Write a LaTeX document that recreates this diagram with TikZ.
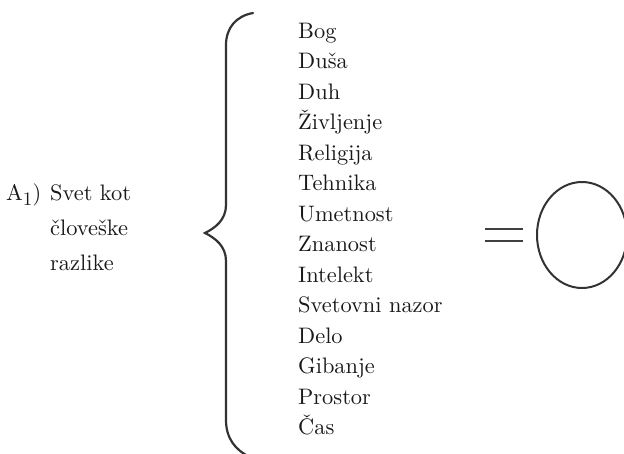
\documentclass[tikz,border=0pt]{standalone}
\usepackage{fontspec}
\setmainfont{lmroman10-regular.otf}
\begin{document}
\begin{tikzpicture}[x=1pt,y=-1pt,
  txt/.style={anchor=base west,inner sep=0pt,font=\fontsize{22.4}{30.5}\selectfont,text=black!90},
  stroke/.style={line width=2.2pt,black!80,line cap=round}]
\useasboundingbox (0,0) rectangle (624,453);
% left label
\node[txt] (a1) at (6,200) {A\raisebox{-5pt}{\fontsize{19}{19}\selectfont 1})};
\node[txt] (l1) at (50,200) {Svet kot};
\node[txt] (l2) at (50,235) {človeške};
\node[txt] (l3) at (50,270) {razlike};
% list
\foreach \t [count=\i from 0] in {Bog,Duša,Duh,Življenje,Religija,Tehnika,Umetnost,Znanost,Intelekt,Svetovni nazor,Delo,Gibanje,Prostor,Čas}
  \node[txt] (item\i) at (298,38.3+30.5*\i) {\t};
% brace
\draw[stroke] (253,13) .. controls (236,16) and (226,28) .. (226,45) -- (226,205)
  .. controls (226,220) and (215,228) .. (205,233)
  .. controls (215,238) and (226,246) .. (226,261) -- (226,420)
  .. controls (226,438) and (235,450) .. (250,457);
% equals
\draw[line width=2pt,black!75] (485,229) -- (523,229);
\draw[line width=2pt,black!75] (485,241) -- (523,241);
% ellipse
\draw[line width=2pt,black!80] (582,235) ellipse [x radius=45pt,y radius=53pt];
\end{tikzpicture}
\end{document}
